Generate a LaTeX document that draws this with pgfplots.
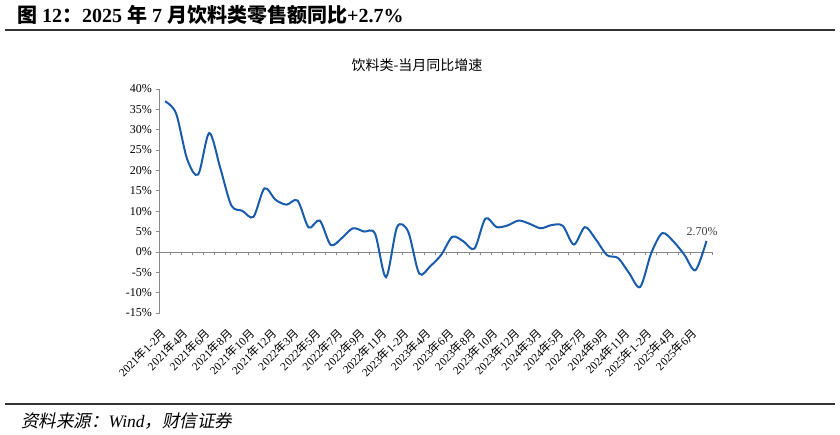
\documentclass[border=0pt]{standalone}
\usepackage{fontspec}
\setmainfont{Liberation Serif}
\newfontfamily\cjk{Noto Sans CJK SC}
\newfontfamily\cjkit[FakeSlant=0.2]{Noto Sans CJK SC}
\usepackage{pgfplots}
\pgfplotsset{compat=1.18}
\definecolor{lineblue}{RGB}{25,92,172}
\definecolor{axisgray}{RGB}{137,137,137}
\newcommand\nian{{\cjk 年}}
\newcommand\yue{{\cjk 月}}
\pgfplotstableread{
idx val
0 37.0
1 34.0
2 22.8
3 19.0
4 29.2
5 20.6
6 11.4
7 10.1
8 8.6
9 15.6
10 12.8
11 11.6
12 12.6
13 6.0
14 7.7
15 1.7
16 3.4
17 5.8
18 5.0
19 4.5
20 -6.2
21 6.1
22 5.0
23 -5.3
24 -3.5
25 -0.7
26 3.7
27 2.6
28 0.8
29 8.2
30 6.1
31 6.5
32 7.7
33 6.9
34 5.8
35 6.6
36 6.4
37 1.8
38 6.1
39 3.0
40 -0.8
41 -1.5
42 -5.2
43 -8.6
44 -0.3
45 4.6
46 2.6
47 -0.7
48 -4.5
49 2.7
}\datatable
\begin{document}
\begin{tikzpicture}[x=1pt,y=1pt]
\path[use as bounding box] (0,0) rectangle (840,-435);
\node[anchor=base west, inner sep=0, font=\fontsize{20}{23}\selectfont\bfseries] at (17,-23) {{\cjk 图} 12{\cjk ：}2025 {\cjk 年} 7 {\cjk 月饮料类零售额同比}+2.7\%};
\draw[line width=2pt, black!80] (5,-30.5) -- (835,-30.5);
\node[anchor=base, inner sep=0, font=\cjk\fontsize{14}{16}\selectfont] at (417,-71) {饮料类-当月同比增速};
\begin{axis}[
  at={(159.5pt,-313pt)}, anchor=south west,
  scale only axis, width=552.5pt, height=224pt,
  xmin=-0.5, xmax=49.5, ymin=-15, ymax=40,
  axis x line=middle, axis y line=left,
  axis line style={-, draw=axisgray, line width=0.8pt},
  xtick={0,2,...,48},
  xticklabels={2021\nian1-2\yue,2021\nian4\yue,2021\nian6\yue,2021\nian8\yue,2021\nian10\yue,2021\nian12\yue,2022\nian3\yue,2022\nian5\yue,2022\nian7\yue,2022\nian9\yue,2022\nian11\yue,2023\nian1-2\yue,2023\nian4\yue,2023\nian6\yue,2023\nian8\yue,2023\nian10\yue,2023\nian12\yue,2024\nian3\yue,2024\nian5\yue,2024\nian7\yue,2024\nian9\yue,2024\nian11\yue,2025\nian1-2\yue,2025\nian4\yue,2025\nian6\yue},
  major x tick style={draw=none},
  minor xtick={-0.5,0.5,...,49.5},
  minor tick length=3.5pt, major tick length=4pt,
  tick align=outside,
  minor x tick style={axisgray, line width=0.8pt},
  y tick style={axisgray, line width=0.8pt},
  ytick={-15,-10,...,40},
  yticklabels={-15\%,-10\%,-5\%,0\%,5\%,10\%,15\%,20\%,25\%,30\%,35\%,40\%},
  x tick label style={xshift=-5pt, yshift=-70pt, rotate=45, anchor=north east, inner sep=1pt, font=\fontsize{11.5}{13}\selectfont},
  y tick label style={font=\fontsize{12}{14}\selectfont},
  clip=false,
]
\addplot[lineblue, line width=2pt, smooth, tension=0.5, mark=none] table[x=idx, y=val] {\datatable};
\node[anchor=south, text=black!75, font=\fontsize{12}{14}\selectfont, inner sep=1pt] at (axis cs:48.6,3.6) {2.70\%};
\end{axis}
\draw[line width=2pt, black!80] (5,-404) -- (835,-404);
\node[anchor=base west, inner sep=0, font=\fontsize{17.5}{20}\selectfont] at (21,-427) {{\cjkit 资料来源：}\textit{Wind}{\cjkit ，财信证券}};
\end{tikzpicture}
\end{document}
